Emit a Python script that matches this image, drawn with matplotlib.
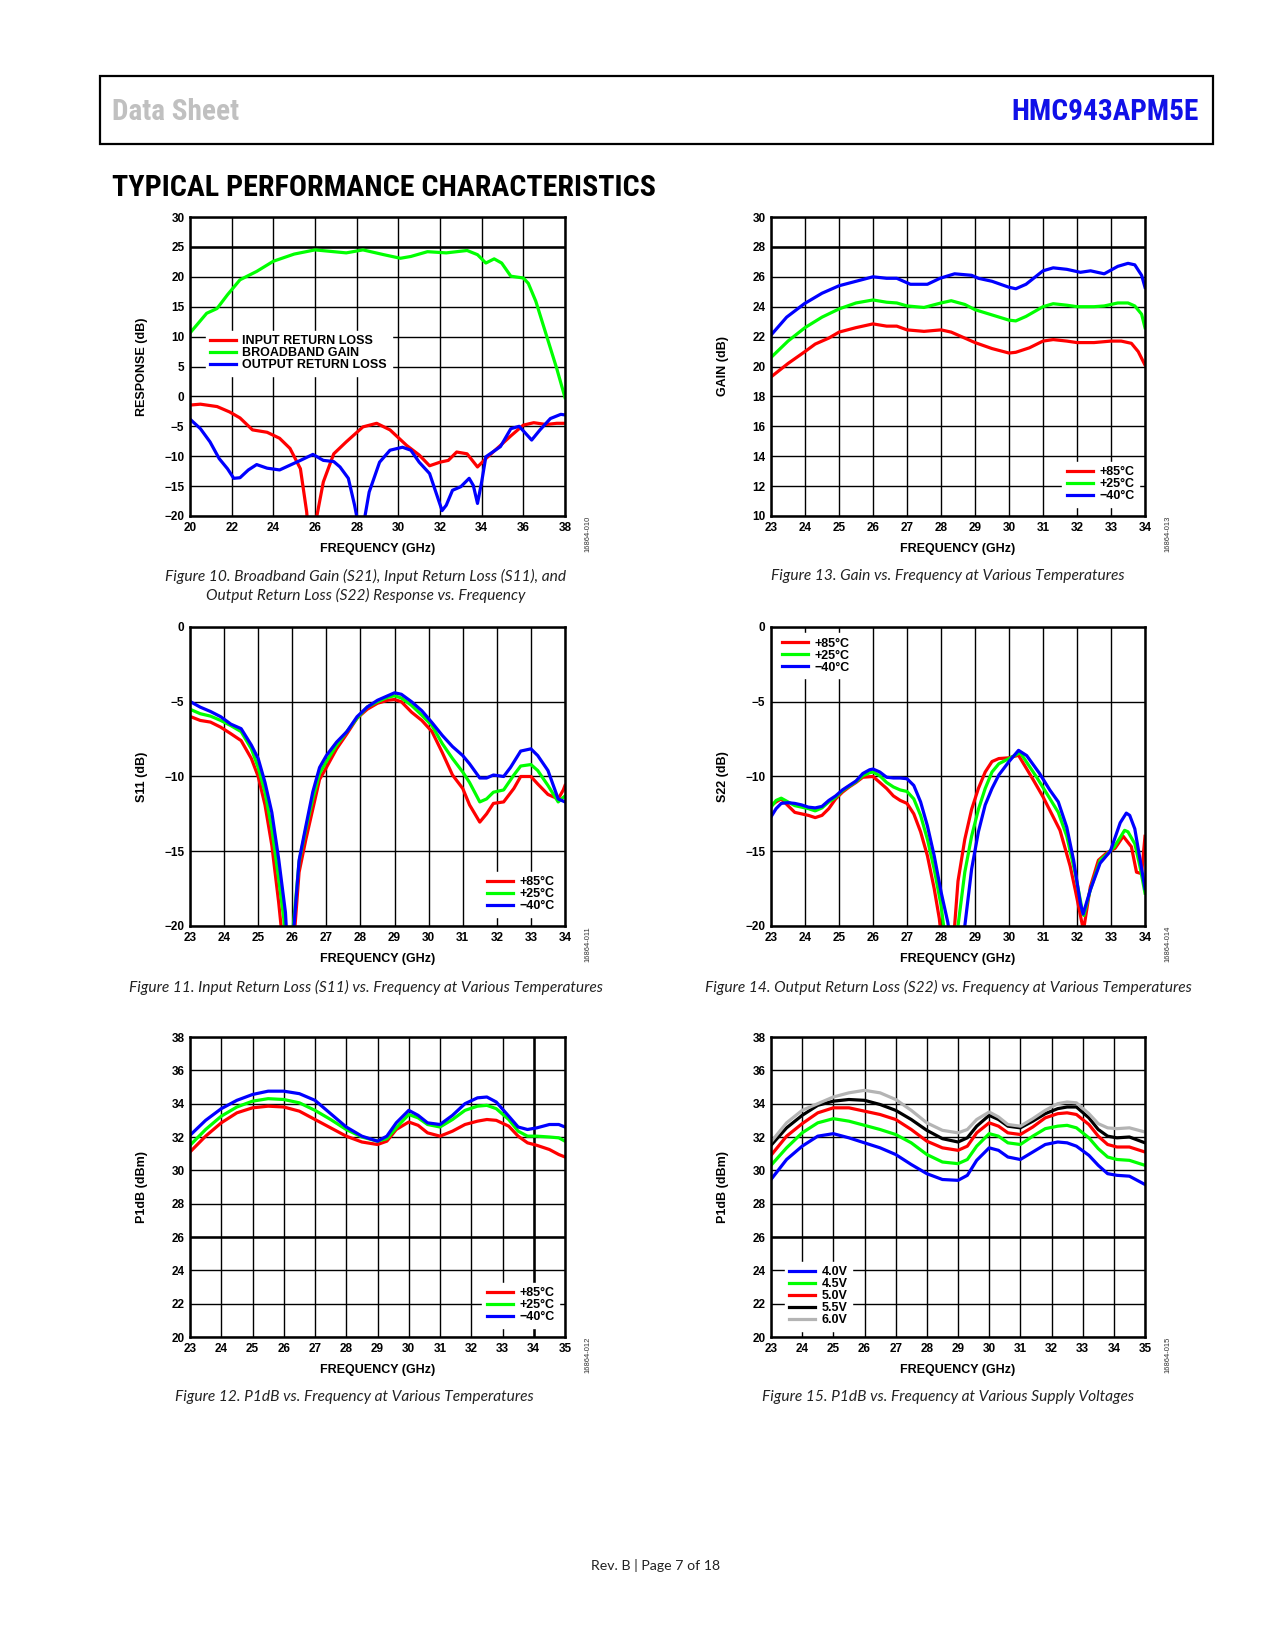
import numpy as np
import matplotlib
matplotlib.use("Agg")
import matplotlib.pyplot as plt
from matplotlib import font_manager

plt.rcParams['font.family'] = ['Liberation Sans', 'DejaVu Sans']

W, H = 1275, 1650
RED, GREEN, BLUE, GRAY = '#ff0000', '#00ff00', '#0000ff', '#b4b4b4'

# ---- Figure 10: broadband response (S21, S11, S22), 20-38 GHz
s21_freq = [20.0, 20.8, 21.3, 21.8, 22.4, 23.2, 24.0, 25.0, 26.0, 26.9, 27.5, 28.3, 29.3, 30.1,
            30.6, 31.4, 32.3, 33.3, 33.8, 34.2, 34.6, 34.96, 35.4, 36.0, 36.24, 36.6, 37.1, 37.6, 38.0]
s21_db = [10.6, 13.9, 14.7, 17.0, 19.5, 20.9, 22.6, 23.8, 24.5, 24.2, 24.0, 24.5, 23.7, 23.1,
          23.4, 24.2, 24.0, 24.4, 23.7, 22.3, 23.0, 22.3, 20.1, 19.8, 18.9, 15.9, 10.3, 4.7, -0.2]
s11_freq = [20.0, 20.5, 21.3, 21.9, 22.4, 23.0, 23.7, 24.3, 24.8, 25.3, 25.6, 25.85, 26.1, 26.4,
            26.9, 27.5, 28.3, 28.96, 29.6, 30.4, 31.0, 31.5, 32.0, 32.4, 32.8, 33.3, 33.8, 34.2,
            34.9, 35.4, 36.0, 36.5, 37.1, 37.6, 38.0]
s11_db = [-1.45, -1.3, -1.7, -2.6, -3.6, -5.6, -6.0, -7.0, -8.7, -12.1, -19.3, -30.0, -19.8, -14.3,
          -9.6, -7.6, -5.1, -4.5, -5.6, -8.2, -9.8, -11.6, -11.0, -10.7, -9.3, -9.6, -11.8, -10.4,
          -8.2, -6.6, -4.8, -4.4, -4.7, -4.5, -4.5]
s22_freq = [20.0, 20.5, 20.96, 21.4, 21.8, 22.1, 22.4, 22.8, 23.2, 23.7, 24.3, 24.8, 25.3, 25.9,
            26.4, 26.9, 27.2, 27.6, 27.9, 28.0, 28.2, 28.4, 28.6, 29.1, 29.6, 30.2, 30.6, 31.0,
            31.5, 31.8, 32.1, 32.3, 32.6, 33.0, 33.4, 33.6, 33.8, 34.0, 34.2, 34.9, 35.4, 35.8,
            36.4, 36.8, 37.3, 37.8, 38.0]
s22_db = [-3.8, -5.4, -7.6, -10.4, -12.1, -13.7, -13.6, -12.3, -11.4, -12.0, -12.3, -11.5, -10.7, -9.7,
          -10.7, -10.9, -11.8, -13.7, -18.2, -20.0, -26.0, -20.0, -16.0, -11.0, -9.0, -8.5, -9.0, -11.0,
          -12.9, -16.0, -19.1, -18.2, -15.7, -15.1, -13.7, -14.9, -17.9, -14.3, -10.1, -8.4, -5.4, -5.0,
          -7.3, -5.6, -3.7, -3.0, -3.1]

# ---- Figure 11: S11 vs frequency at temperatures, 23-34 GHz
s11_85_freq = [23.0, 23.3, 23.6, 23.9, 24.2, 24.5, 24.8, 25.0, 25.2, 25.4, 25.6, 25.85, 26.08, 26.2,
               26.4, 26.6, 26.8, 27.0, 27.3, 27.6, 27.9, 28.2, 28.5, 28.8, 29.0, 29.2, 29.5, 29.8,
               30.1, 30.4, 30.7, 31.0, 31.2, 31.5, 31.7, 31.9, 32.2, 32.5, 32.7, 33.0, 33.2, 33.5,
               33.8, 33.95, 34.0]
s11_85 = [-5.98, -6.25, -6.36, -6.7, -7.14, -7.6, -8.8, -10.0, -11.9, -14.6, -18.4, -24.0, -20.0, -16.4,
          -14.2, -12.2, -10.2, -9.4, -8.15, -7.15, -6.1, -5.5, -5.1, -4.9, -4.85, -5.0, -5.7, -6.25,
          -7.0, -8.4, -9.9, -10.8, -11.9, -13.05, -12.5, -11.8, -11.7, -10.8, -10.0, -10.0, -10.5, -11.2,
          -11.5, -10.9, -10.6]
s11_25_freq = [23.0, 23.3, 23.6, 23.9, 24.2, 24.5, 24.8, 25.0, 25.2, 25.4, 25.6, 25.75, 25.9, 26.03,
               26.2, 26.4, 26.6, 26.8, 27.0, 27.3, 27.6, 27.9, 28.2, 28.5, 28.8, 29.0, 29.2, 29.5,
               29.8, 30.1, 30.4, 30.7, 31.0, 31.2, 31.5, 31.7, 31.9, 32.2, 32.5, 32.7, 33.0, 33.2,
               33.5, 33.8, 34.0]
s11_25 = [-5.5, -5.8, -5.96, -6.25, -6.6, -7.0, -8.15, -9.4, -11.05, -13.5, -16.85, -19.5, -24.0, -20.0,
          -15.7, -13.5, -11.5, -9.8, -9.0, -7.9, -7.0, -6.1, -5.35, -5.0, -4.7, -4.6, -4.75, -5.25,
          -5.9, -6.6, -7.8, -8.8, -9.7, -10.4, -11.7, -11.5, -11.05, -10.9, -9.9, -9.3, -9.2, -9.6,
          -10.6, -11.7, -11.3]
s11_m40_freq = [23.0, 23.3, 23.6, 23.9, 24.2, 24.5, 24.8, 25.0, 25.2, 25.4, 25.6, 25.8, 25.92, 26.05,
                26.2, 26.4, 26.6, 26.8, 27.0, 27.3, 27.6, 27.9, 28.2, 28.5, 28.8, 29.0, 29.2, 29.5,
                29.8, 30.1, 30.4, 30.7, 31.0, 31.2, 31.5, 31.7, 31.9, 32.2, 32.4, 32.7, 33.0, 33.2,
                33.5, 33.8, 34.0]
s11_m40 = [-4.98, -5.36, -5.65, -6.0, -6.5, -6.8, -7.9, -8.8, -10.4, -12.4, -15.5, -19.1, -24.0, -20.0,
           -15.6, -13.3, -11.05, -9.4, -8.6, -7.7, -7.0, -6.0, -5.35, -4.9, -4.6, -4.4, -4.5, -5.0,
           -5.6, -6.4, -7.25, -8.0, -8.6, -9.15, -10.1, -10.1, -9.9, -10.0, -9.4, -8.3, -8.15, -8.6,
           -9.6, -11.5, -11.7]

# ---- Figure 12: P1dB vs frequency at temperatures, 23-35 GHz
p1_freq = [23.0, 23.5, 24.0, 24.5, 25.0, 25.5, 26.0, 26.5, 27.0, 27.5, 28.0, 28.5, 29.0, 29.3, 29.6,
           30.0, 30.3, 30.6, 31.0, 31.4, 31.8, 32.2, 32.5, 32.8, 33.2, 33.5, 33.8, 34.1, 34.5, 34.8, 35.0]
p1_85 = [31.1, 32.05, 32.85, 33.45, 33.75, 33.85, 33.8, 33.55, 33.05, 32.55, 32.05, 31.7, 31.55, 31.75,
         32.45, 32.9, 32.7, 32.25, 32.05, 32.35, 32.75, 32.95, 33.05, 33.0, 32.65, 32.05, 31.65, 31.5,
         31.25, 30.95, 30.8]
p1_25 = [31.5, 32.45, 33.25, 33.8, 34.15, 34.3, 34.25, 34.05, 33.6, 33.05, 32.45, 32.0, 31.75, 31.9,
         32.55, 33.35, 33.15, 32.75, 32.6, 33.05, 33.6, 33.85, 33.9, 33.7, 33.05, 32.35, 32.05, 32.05,
         32.0, 31.95, 31.75]
p1_m40 = [32.1, 33.0, 33.7, 34.2, 34.55, 34.75, 34.75, 34.6, 34.2, 33.4, 32.6, 32.05, 31.75, 32.05,
          32.85, 33.6, 33.3, 32.85, 32.75, 33.3, 34.0, 34.35, 34.4, 34.1, 33.25, 32.6, 32.45, 32.55,
          32.75, 32.75, 32.6]

# ---- Figure 13: gain vs frequency at temperatures, 23-34 GHz
gain_85_freq = [23.0, 23.5, 24.0, 24.3, 24.7, 25.0, 25.5, 26.0, 26.4, 26.7, 27.0, 27.5, 28.0, 28.3, 28.6,
                29.0, 29.5, 30.0, 30.2, 30.6, 31.0, 31.3, 31.7, 32.0, 32.5, 33.0, 33.3, 33.6, 33.8, 34.0]
gain_85 = [19.3, 20.2, 21.0, 21.5, 21.9, 22.3, 22.6, 22.85, 22.7, 22.7, 22.45, 22.35, 22.45, 22.3, 22.0,
           21.6, 21.2, 20.9, 20.95, 21.25, 21.7, 21.8, 21.7, 21.6, 21.6, 21.7, 21.7, 21.55, 21.0, 20.1]
gain_25_freq = [23.0, 23.5, 24.0, 24.5, 25.0, 25.5, 26.0, 26.4, 26.7, 27.0, 27.5, 28.0, 28.3, 28.7, 29.0,
                29.5, 30.0, 30.2, 30.5, 31.0, 31.3, 31.7, 32.0, 32.5, 32.8, 33.2, 33.5, 33.7, 33.9, 34.0]
gain_25 = [20.6, 21.7, 22.6, 23.3, 23.85, 24.25, 24.45, 24.3, 24.25, 24.05, 23.95, 24.25, 24.4, 24.15, 23.8,
           23.45, 23.1, 23.05, 23.35, 24.0, 24.2, 24.1, 24.0, 24.0, 24.05, 24.25, 24.25, 24.05, 23.5, 22.6]
gain_m40_freq = [23.0, 23.46, 23.98, 24.5, 25.0, 25.5, 26.0, 26.4, 26.7, 27.1, 27.6, 27.97, 28.4, 28.9, 29.1,
                 29.5, 30.0, 30.2, 30.5, 31.0, 31.3, 31.7, 32.1, 32.4, 32.8, 33.2, 33.5, 33.7, 33.9, 34.0]
gain_m40 = [22.1, 23.3, 24.2, 24.9, 25.4, 25.7, 26.0, 25.9, 25.9, 25.5, 25.5, 25.9, 26.2, 26.1, 25.9,
            25.7, 25.3, 25.2, 25.5, 26.4, 26.6, 26.5, 26.3, 26.4, 26.2, 26.7, 26.9, 26.8, 26.1, 25.3]

# ---- Figure 14: S22 vs frequency at temperatures, 23-34 GHz
s22_85_freq = [23.0, 23.15, 23.3, 23.5, 23.7, 23.9, 24.1, 24.3, 24.5, 24.7, 24.9, 25.1, 25.3, 25.5, 25.7,
               26.0, 26.2, 26.4, 26.6, 26.8, 27.0, 27.2, 27.4, 27.6, 27.8, 27.95, 28.17, 28.4, 28.5, 28.7,
               28.9, 29.1, 29.3, 29.5, 29.7, 30.0, 30.28, 30.72, 31.0, 31.3, 31.5, 31.8, 31.95, 32.19,
               32.39, 32.63, 32.88, 33.12, 33.36, 33.6, 33.75, 33.9, 34.0]
s22_85 = [-11.95, -11.7, -11.5, -11.95, -12.4, -12.5, -12.6, -12.75, -12.6, -12.15, -11.5, -11.05, -10.7,
          -10.4, -10.05, -10.0, -10.4, -10.8, -11.3, -11.6, -11.8, -12.5, -13.7, -15.3, -17.5, -19.5,
          -24.0, -20.0, -17.0, -14.2, -12.2, -10.8, -9.7, -9.0, -8.8, -8.75, -8.58, -10.25, -11.36, -12.7,
          -13.6, -16.0, -17.6, -20.3, -17.4, -15.6, -15.1, -14.8, -14.0, -14.7, -16.4, -16.5, -14.0]
s22_25_freq = [23.0, 23.15, 23.3, 23.5, 23.7, 23.9, 24.1, 24.3, 24.5, 24.7, 24.9, 25.1, 25.3, 25.5, 25.7,
               25.9, 26.0, 26.2, 26.4, 26.6, 26.8, 27.0, 27.2, 27.4, 27.6, 27.8, 28.0, 28.3, 28.5, 28.7,
               28.9, 29.1, 29.3, 29.5, 29.7, 30.0, 30.33, 30.8, 31.1, 31.45, 31.7, 31.95, 32.15, 32.2,
               32.39, 32.68, 32.88, 33.1, 33.4, 33.5, 33.7, 33.85, 34.0]
s22_25 = [-12.05, -11.6, -11.45, -11.7, -11.95, -12.05, -12.15, -12.3, -12.1, -11.7, -11.4, -10.95, -10.65,
          -10.35, -9.95, -9.75, -9.7, -9.95, -10.4, -10.7, -10.9, -11.0, -11.5, -12.6, -14.2, -16.2, -18.6,
          -24.0, -20.0, -16.4, -14.0, -12.2, -10.8, -9.7, -9.15, -8.8, -8.4, -10.0, -11.1, -12.4, -14.0,
          -16.5, -18.9, -19.3, -17.6, -15.6, -15.2, -14.7, -13.6, -13.7, -14.5, -16.0, -17.8]
s22_m40_freq = [23.0, 23.15, 23.3, 23.5, 23.7, 23.9, 24.1, 24.3, 24.5, 24.7, 24.9, 25.1, 25.3, 25.5, 25.7,
                25.9, 26.0, 26.2, 26.4, 26.6, 26.8, 27.0, 27.2, 27.4, 27.6, 27.8, 28.0, 28.2, 28.48, 28.7,
                28.9, 29.1, 29.3, 29.5, 29.7, 30.0, 30.28, 30.52, 30.9, 31.2, 31.45, 31.7, 31.9, 32.1,
                32.18, 32.39, 32.68, 32.98, 33.27, 33.45, 33.55, 33.7, 33.85, 34.0]
s22_m40 = [-12.7, -12.15, -11.8, -11.75, -11.8, -11.9, -12.05, -12.1, -12.0, -11.6, -11.3, -10.9, -10.6,
           -10.3, -9.8, -9.55, -9.5, -9.7, -10.05, -10.1, -10.1, -10.15, -10.6, -11.7, -13.3, -15.3, -17.7,
           -19.75, -24.0, -20.0, -16.2, -13.7, -11.9, -10.8, -9.9, -9.0, -8.25, -8.6, -9.8, -10.9, -11.7,
           -13.4, -15.6, -18.5, -19.2, -17.6, -15.8, -15.0, -13.1, -12.45, -12.6, -13.5, -15.5, -17.5]

# ---- Figure 15: P1dB vs frequency at supply voltages, 23-35 GHz
pv_freq = [23.0, 23.5, 24.0, 24.5, 25.0, 25.5, 26.0, 26.5, 27.0, 27.5, 28.0, 28.5, 29.0, 29.3, 29.6,
           30.0, 30.3, 30.6, 31.0, 31.4, 31.8, 32.2, 32.5, 32.8, 33.2, 33.5, 33.8, 34.1, 34.5, 35.0]
pv_40 = [29.45, 30.65, 31.45, 32.05, 32.2, 31.95, 31.65, 31.35, 30.95, 30.35, 29.8, 29.45, 29.4, 29.7,
         30.6, 31.35, 31.2, 30.8, 30.65, 31.1, 31.55, 31.7, 31.65, 31.45, 30.9, 30.3, 29.8, 29.7, 29.65, 29.15]
pv_45 = [30.3, 31.35, 32.25, 32.85, 33.1, 32.95, 32.7, 32.45, 32.15, 31.65, 30.95, 30.5, 30.4, 30.65,
         31.45, 32.2, 32.05, 31.65, 31.55, 32.05, 32.5, 32.65, 32.7, 32.55, 31.95, 31.3, 30.8, 30.65, 30.6, 30.3]
pv_50 = [30.9, 32.05, 32.8, 33.45, 33.75, 33.75, 33.55, 33.35, 33.05, 32.45, 31.75, 31.35, 31.2, 31.45,
         32.25, 32.85, 32.65, 32.25, 32.15, 32.6, 33.15, 33.4, 33.45, 33.35, 32.75, 32.05, 31.55, 31.4, 31.4, 31.1]
pv_55 = [31.5, 32.55, 33.3, 33.9, 34.15, 34.25, 34.2, 33.95, 33.6, 33.05, 32.4, 31.9, 31.7, 31.95,
         32.65, 33.3, 33.05, 32.65, 32.55, 32.95, 33.4, 33.7, 33.8, 33.8, 33.15, 32.45, 32.05, 31.95, 32.0, 31.65]
pv_60 = [31.7, 32.85, 33.6, 34.0, 34.4, 34.65, 34.8, 34.65, 34.25, 33.6, 32.85, 32.4, 32.25, 32.45,
         33.05, 33.5, 33.2, 32.75, 32.65, 33.1, 33.6, 34.0, 34.1, 34.05, 33.4, 32.8, 32.55, 32.5, 32.55, 32.3]

temp_labels = ['+85°C', '+25°C', '\u221240°C']
volt_labels = ['4.0V', '4.5V', '5.0V', '5.5V', '6.0V']
s_labels = ['INPUT RETURN LOSS', 'BROADBAND GAIN', 'OUTPUT RETURN LOSS']

fig = plt.figure(figsize=(W / 100, H / 100), dpi=100)


def px_axes(x0, y0, x1, y1):
    return fig.add_axes([x0 / W, 1 - y1 / H, (x1 - x0) / W, (y1 - y0) / H])


def style(ax, xlim, ylim, xstep, ystep, ylabel):
    ax.set_xlim(xlim)
    ax.set_ylim(ylim)
    ax.set_xticks(np.arange(xlim[0], xlim[1] + 0.01, xstep))
    ax.set_yticks(np.arange(ylim[0], ylim[1] + 0.01, ystep))
    ax.grid(True, color='black', lw=1.0)
    ax.set_axisbelow(True)
    ax.tick_params(length=0, labelsize=8.5, pad=4)
    for lab in ax.get_xticklabels() + ax.get_yticklabels():
        lab.set_fontweight('bold')
    for s in ax.spines.values():
        s.set_linewidth(1.8)
    ax.set_xlabel('FREQUENCY (GHz)', fontsize=9, fontweight='bold')
    ax.set_ylabel(ylabel, fontsize=9, fontweight='bold')
    ax.xaxis.set_label_coords(0.5, -0.09)
    ax.yaxis.set_label_coords(-0.112, 0.5)


def legend(ax, **kw):
    return ax.legend(handlelength=2.1, handletextpad=0.5, labelspacing=0.0,
                     borderpad=0.35, frameon=True, fancybox=False, framealpha=1.0,
                     edgecolor='white', prop={'weight': 'bold', 'size': 9}, **kw)


LW = 2.3

# Figure 10
ax = px_axes(190, 217, 565, 516)
style(ax, (20, 38), (-20, 30), 2, 5, 'RESPONSE (dB)')
ax.axhline(25, color='black', lw=1.8, zorder=1)
ax.plot(s11_freq, s11_db, color=RED, lw=LW, label=s_labels[0])
ax.plot(s21_freq, s21_db, color=GREEN, lw=LW, label=s_labels[1])
ax.plot(s22_freq, s22_db, color=BLUE, lw=LW, label=s_labels[2])
legend(ax, loc='upper left', bbox_to_anchor=(0.025, 0.64))

# Figure 13
ax = px_axes(771, 217, 1145, 516)
style(ax, (23, 34), (10, 30), 1, 2, 'GAIN (dB)')
ax.axhline(28, color='black', lw=1.8, zorder=1)
ax.plot(gain_85_freq, gain_85, color=RED, lw=LW, label=temp_labels[0])
ax.plot(gain_25_freq, gain_25, color=GREEN, lw=LW, label=temp_labels[1])
ax.plot(gain_m40_freq, gain_m40, color=BLUE, lw=LW, label=temp_labels[2])
legend(ax, loc='lower right', bbox_to_anchor=(1.0, 0.01))

# Figure 11
ax = px_axes(190, 627, 565, 926)
style(ax, (23, 34), (-20, 0), 1, 5, 'S11 (dB)')
ax.plot(s11_85_freq, s11_85, color=RED, lw=LW, label=temp_labels[0])
ax.plot(s11_25_freq, s11_25, color=GREEN, lw=LW, label=temp_labels[1])
ax.plot(s11_m40_freq, s11_m40, color=BLUE, lw=LW, label=temp_labels[2])
legend(ax, loc='lower right', bbox_to_anchor=(1.0, 0.01))

# Figure 14
ax = px_axes(771, 627, 1145, 926)
style(ax, (23, 34), (-20, 0), 1, 5, 'S22 (dB)')
ax.plot(s22_85_freq, s22_85, color=RED, lw=LW, label=temp_labels[0])
ax.plot(s22_25_freq, s22_25, color=GREEN, lw=LW, label=temp_labels[1])
ax.plot(s22_m40_freq, s22_m40, color=BLUE, lw=LW, label=temp_labels[2])
legend(ax, loc='upper left', bbox_to_anchor=(0.0, 1.0))

# Figure 12
ax = px_axes(190, 1037, 565, 1337)
style(ax, (23, 35), (20, 38), 1, 2, 'P1dB (dBm)')
ax.axhline(26, color='black', lw=1.8, zorder=1)
ax.axvline(34, color='black', lw=1.8, zorder=1)
ax.plot(p1_freq, p1_85, color=RED, lw=LW, label=temp_labels[0])
ax.plot(p1_freq, p1_25, color=GREEN, lw=LW, label=temp_labels[1])
ax.plot(p1_freq, p1_m40, color=BLUE, lw=LW, label=temp_labels[2])
legend(ax, loc='lower right', bbox_to_anchor=(1.0, 0.01))

# Figure 15
ax = px_axes(771, 1037, 1145, 1337)
style(ax, (23, 35), (20, 38), 1, 2, 'P1dB (dBm)')
ax.axhline(26, color='black', lw=1.8, zorder=1)
for vals, col, lab in zip([pv_40, pv_45, pv_50, pv_55, pv_60],
                          [BLUE, GREEN, RED, 'black', GRAY], volt_labels):
    ax.plot(pv_freq, vals, color=col, lw=LW, label=lab)
legend(ax, loc='lower left', bbox_to_anchor=(0.02, 0.0))

# page furniture -- header uses a narrow bold face if one is installed
installed = {f.name for f in font_manager.fontManager.ttflist}
narrow = [n for n in ['Liberation Sans Narrow', 'Roboto Condensed', 'DejaVu Sans Condensed',
                      'Noto Sans Condensed'] if n in installed]
cond = narrow[:1] + ['Liberation Sans', 'DejaVu Sans']
stretch = 'condensed' if narrow else 'normal'

fig.patches.append(plt.Rectangle((100 / W, 1 - 144 / H), 1113 / W, 68 / H, transform=fig.transFigure,
                                 fill=False, edgecolor='black', lw=1.6))
head = [
    (fig.text(112 / W, 1 - 112 / H, 'Data Sheet', family=cond, stretch=stretch, weight='bold', size=22,
              color='#c0c0c0', ha='left', va='center'), 127),
    (fig.text(1199 / W, 1 - 112 / H, 'HMC943APM5E', family=cond, stretch=stretch, weight='bold', size=22,
              color='#1010e8', ha='right', va='center'), 187),
    (fig.text(112 / W, 1 - 188 / H, 'TYPICAL PERFORMANCE CHARACTERISTICS', family=cond, stretch=stretch,
              weight='bold', size=22, color='black', ha='left', va='center'), 542),
]
renderer = fig.canvas.get_renderer()
for txt, target in head:
    wpx = txt.get_window_extent(renderer).width
    txt.set_fontsize(min(24, txt.get_fontsize() * target / wpx))

cap = ['Lato', 'DejaVu Sans']
captions = [
    (366, 576, 'Figure 10. Broadband Gain (S21), Input Return Loss (S11), and'),
    (366, 595, 'Output Return Loss (S22) Response vs. Frequency'),
    (948, 576, 'Figure 13. Gain vs. Frequency at Various Temperatures'),
    (366, 987, 'Figure 11. Input Return Loss (S11) vs. Frequency at Various Temperatures'),
    (948, 987, 'Figure 14. Output Return Loss (S22) vs. Frequency at Various Temperatures'),
    (354, 1397, 'Figure 12. P1dB vs. Frequency at Various Temperatures'),
    (948, 1397, 'Figure 15. P1dB vs. Frequency at Various Supply Voltages'),
]
for x, y, t in captions:
    fig.text(x / W, 1 - y / H, t, family=cap, style='italic', size=11.2, color='#222222',
             ha='center', va='center')

codes = [(588, 534, '16864-010'), (1168, 534, '16864-013'), (588, 944, '16864-011'),
         (1168, 944, '16864-014'), (588, 1355, '16864-012'), (1168, 1355, '16864-015')]
for x, y, t in codes:
    fig.text(x / W, 1 - y / H, t, size=5.5, rotation=90, ha='center', va='center', color='#333333')

fig.text(656 / W, 1 - 1565 / H, 'Rev. B | Page 7 of 18', family=cap, size=10.2, color='#222222',
         ha='center', va='center')

fig.savefig('out.png', dpi=100)
